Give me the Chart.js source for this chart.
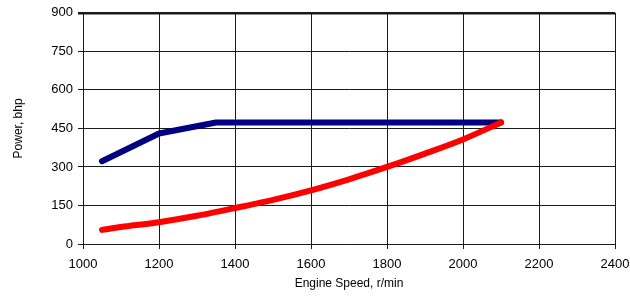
<!DOCTYPE html>
<html>
<head>
<meta charset="utf-8">
<script src="https://cdn.jsdelivr.net/npm/chart.js@4"></script>
<style>
html,body{margin:0;padding:0;background:#fff;}
#wrap{width:630px;height:297px;position:relative;}
</style>
</head>
<body>
<div id="wrap"><canvas id="c" width="630" height="297"></canvas></div>
<script>
// Data
const xTicks = [1000, 1200, 1400, 1600, 1800, 2000, 2200, 2400];
const yTicks = [0, 150, 300, 450, 600, 750, 900];
const maxPowerSpeed = [1050, 1200, 1350, 2100];
const maxPower = [322, 430, 473, 473];
const propSpeed = [1050, 1100, 1200, 1300, 1400, 1500, 1600, 1700, 1800, 1900, 2000, 2100];
const propPower = [55, 66, 85, 110, 140, 172, 209, 252, 300, 352, 407, 473];

const toPts = (xs, ys) => xs.map((x, i) => ({x: x, y: ys[i]}));

const FONT = 'Liberation Sans, Arial, sans-serif';

new Chart(document.getElementById('c'), {
  type: 'line',
  data: {
    datasets: [
      {
        label: 'Propeller',
        data: toPts(propSpeed, propPower),
        borderColor: '#ff0000',
        borderWidth: 6,
        pointRadius: 0,
        tension: 0.3,
        borderCapStyle: 'round',
        fill: false
      },
      {
        label: 'Max power',
        data: toPts(maxPowerSpeed, maxPower),
        borderColor: '#000080',
        borderWidth: 6,
        pointRadius: 0,
        tension: 0,
        borderCapStyle: 'round',
        borderJoinStyle: 'round',
        fill: false
      }
    ]
  },
  options: {
    responsive: false,
    animation: false,
    events: [],
    layout: {padding: {left: 0, right: 0, top: 12, bottom: 0}},
    plugins: {legend: {display: false}, tooltip: {enabled: false}},
    scales: {
      x: {
        type: 'linear',
        min: xTicks[0],
        max: xTicks[xTicks.length - 1],
        afterBuildTicks: (s) => { s.ticks = xTicks.map(v => ({value: v})); },
        afterFit: (s) => { s.height = 53; s.paddingRight = 15; s.paddingLeft = 0; },
        grid: {color: '#1a1a1a', lineWidth: 1, tickLength: 5, drawTicks: true},
        border: {color: '#1a1a1a', width: 1},
        ticks: {color: '#000', font: {family: FONT, size: 13}, padding: 8, maxRotation: 0, autoSkip: false,
                callback: (v) => String(v)},
        title: {display: true, text: 'Engine Speed, r/min', color: '#000', font: {family: FONT, size: 12}, padding: {top: 0, bottom: 6}}
      },
      y: {
        type: 'linear',
        min: yTicks[0],
        max: yTicks[yTicks.length - 1],
        afterBuildTicks: (s) => { s.ticks = yTicks.map(v => ({value: v})); },
        afterFit: (s) => { s.width = 83; },
        grid: {
          color: '#1a1a1a',
          lineWidth: (ctx) => (ctx.tick && ctx.tick.value === 900 ? 2.5 : 1),
          tickLength: 5
        },
        border: {color: '#1a1a1a', width: 1},
        ticks: {color: '#000', font: {family: FONT, size: 13}, padding: 5, autoSkip: false,
                callback: (v) => String(v)},
        title: {display: true, text: 'Power, bhp', color: '#000', font: {family: FONT, size: 12}, padding: {top: 11, bottom: 0}}
      }
    }
  },
  plugins: [{
    id: 'bg',
    beforeDraw: (chart) => {
      const c = chart.ctx;
      c.save();
      c.fillStyle = '#fff';
      c.fillRect(0, 0, chart.width, chart.height);
      c.restore();
    }
  }]
});
</script>
</body>
</html>
